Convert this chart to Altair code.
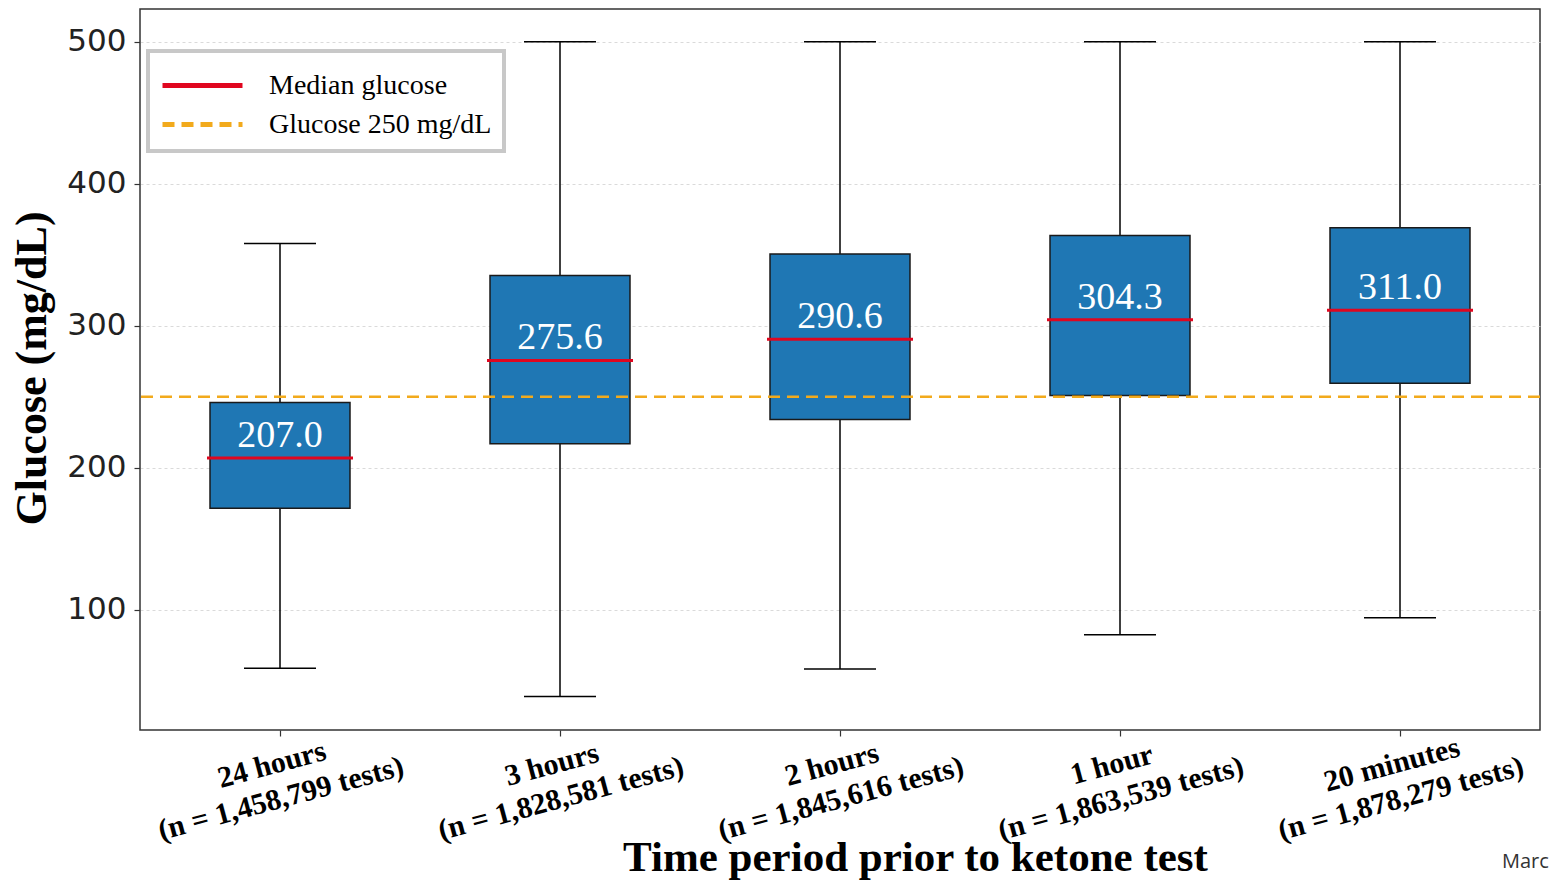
import altair as alt
import pandas as pd

periods = [
    "24 hours\n(n = 1,458,799 tests)",
    "3 hours\n(n = 1,828,581 tests)",
    "2 hours\n(n = 1,845,616 tests)",
    "1 hour\n(n = 1,863,539 tests)",
    "20 minutes\n(n = 1,878,279 tests)",
]
whisker_low = [59.0, 39.0, 58.5, 82.5, 94.5]
q1 = [171.5, 217.0, 234.0, 251.0, 259.5]
median = [207.0, 275.6, 290.6, 304.3, 311.0]
q3 = [246.0, 335.5, 350.5, 363.5, 369.0]
whisker_high = [358.0, 500.0, 500.0, 500.0, 500.0]

series_names = ["Median glucose", "Glucose 250 mg/dL"]
threshold = [250]
footnote = ["Marc"]

SERIF = "Liberation Serif"
RED = "#e0061f"
ORANGE = "#f2aa1c"
BLUE = "#1f77b4"

df = pd.DataFrame({
    "period": periods, "low": whisker_low, "q1": q1, "median": median,
    "q3": q3, "high": whisker_high, "series": series_names[0],
})
thr_df = pd.DataFrame({"y": threshold, "series": [series_names[1]]})

x_enc = alt.X(
    "period:N", sort=periods,
    scale=alt.Scale(paddingInner=0, paddingOuter=0),
    axis=alt.Axis(
        title="Time period prior to ketone test",
        titleFont=SERIF, titleFontSize=43, titleFontWeight="bold", titleColor="black",
        titleX=775, titleY=140, titleAlign="center", titleBaseline="alphabetic",
        labelExpr="split(datum.label, '\\n')",
        labelAngle=345, labelAlign="center", labelBaseline="top",
        labelFont=SERIF, labelFontSize=30, labelFontWeight="bold", labelColor="black",
        labelLineHeight=35, labelPadding=14, labelOffset=-12, labelLimit=500,
        tickSize=6, tickColor="#333", tickWidth=1.2, domain=False, grid=False,
    ),
)
y_scale = alt.Scale(domain=[15.5, 523], nice=False, zero=False)
y_axis = alt.Axis(
    values=[100, 200, 300, 400, 500],
    title="Glucose (mg/dL)",
    titleFont=SERIF, titleFontSize=44, titleFontWeight="bold", titleColor="black",
    titleX=-95, titleY=359, titleAlign="center", titleBaseline="alphabetic",
    labelFont="DejaVu Sans", labelFontSize=31, labelColor="#222", labelPadding=8,
    tickSize=6, tickColor="#333", tickWidth=1.2, domain=False,
    grid=True, gridDash=[3, 3], gridColor="#d0d0d0", gridWidth=0.8,
)

base = alt.Chart(df)

whiskers = base.mark_rule(color="black", strokeWidth=1.5).encode(
    x=x_enc, y=alt.Y("low:Q", scale=y_scale, axis=y_axis), y2="high:Q"
)
cap_low = base.mark_tick(color="black", size=72, thickness=1.5, opacity=1).encode(
    x=alt.X("period:N", sort=periods), y="low:Q"
)
cap_high = base.mark_tick(color="black", size=72, thickness=1.5, opacity=1).encode(
    x=alt.X("period:N", sort=periods), y="high:Q"
)
boxes = base.mark_bar(width=140, color=BLUE, stroke="#1a1a1a", strokeWidth=1.5, opacity=1).encode(
    x=alt.X("period:N", sort=periods), y="q1:Q", y2="q3:Q"
)

color_scale = alt.Scale(domain=series_names, range=[RED, ORANGE])
dash_scale = alt.Scale(domain=series_names, range=[[1, 0], [12, 7]])
legend = alt.Legend(
    title=None, orient="none", legendX=8, legendY=42,
    symbolType="M-1,0H3", symbolSize=1600, symbolStrokeWidth=5, symbolOpacity=1,
    labelFont=SERIF, labelFontSize=28, labelColor="black", labelLimit=500,
    labelOffset=64, rowPadding=2, padding=12,
    strokeColor="#c8c8c8", fillColor="white",
)

medians = base.mark_tick(size=146, thickness=3, opacity=1).encode(
    x=alt.X("period:N", sort=periods), y="median:Q",
    color=alt.Color("series:N", scale=color_scale, legend=legend),
    strokeDash=alt.StrokeDash("series:N", scale=dash_scale, legend=legend),
)
labels = base.mark_text(
    font=SERIF, fontSize=38, color="white", baseline="alphabetic", dy=-11
).encode(
    x=alt.X("period:N", sort=periods), y="median:Q",
    text=alt.Text("median:Q", format=".1f"),
)
thr = alt.Chart(thr_df).mark_rule(strokeWidth=2.5, opacity=1).encode(
    y="y:Q",
    color=alt.Color("series:N", scale=color_scale, legend=legend),
    strokeDash=alt.StrokeDash("series:N", scale=dash_scale, legend=legend),
)
note = alt.Chart(pd.DataFrame({"t": footnote})).mark_text(
    font="Open Sans", fontSize=20, color="#333", align="left", baseline="middle"
).encode(x=alt.value(1362), y=alt.value(853), text="t:N")

chart = alt.layer(whiskers, cap_low, cap_high, boxes, thr, medians, labels, note).properties(
    width=1400, height=721,
    autosize=alt.AutoSizeParams(type="none"),
    padding={"left": 132, "top": 1, "right": 12, "bottom": 150},
).configure_view(
    stroke="#333", strokeWidth=1.5
).configure_legend(
    strokeWidth=4
)

chart.save("out.html", embed_options={"renderer": "svg", "actions": False})
